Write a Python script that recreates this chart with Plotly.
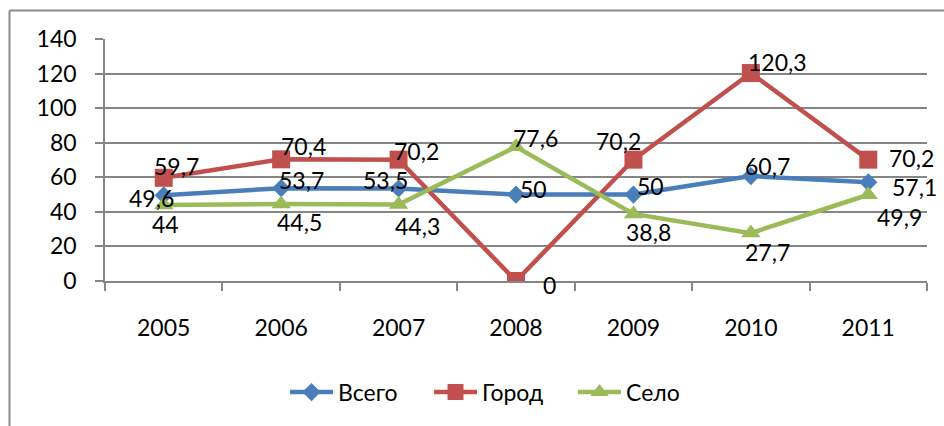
import plotly.graph_objects as go

years = ["2005", "2006", "2007", "2008", "2009", "2010", "2011"]
vsego = [49.6, 53.7, 53.5, 50, 50, 60.7, 57.1]
gorod = [59.7, 70.4, 70.2, 0, 70.2, 120.3, 70.2]
selo = [44, 44.5, 44.3, 77.6, 38.8, 27.7, 49.9]
y_ticks = [0, 20, 40, 60, 80, 100, 120, 140]

FONT = "Lato"
FS = 23

series = [
    ("Всего", vsego, "#4A7EBB", "diamond", 14,
     [(-12, 3), (20, -8), (-13, -9), (17, -6), (17, -9), (17, -10), (46, 5)]),
    ("Город", gorod, "#C0504D", "square", 18,
     [(13, -12), (22, -13), (18, -9), (33, 4), (-15, -19), (27, -11), (43, -2)]),
    ("Село", selo, "#9BBB59", "triangle-up", 17,
     [(2, 19), (18, 18), (19, 22), (19, -9), (15, 18), (17, 19), (31, 22)]),
]

def fmt(v):
    s = f"{v:g}"
    return s.replace(".", ",")

fig = go.Figure()
for name, vals, color, sym, msize, offs in series:
    fig.add_trace(go.Scatter(
        x=years, y=vals, name=name, mode="lines+markers",
        line=dict(color=color, width=4.5),
        marker=dict(symbol=sym, size=msize, color=color),
    ))

for name, vals, color, sym, msize, offs in series:
    for i, (v, (dx, dy)) in enumerate(zip(vals, offs)):
        fig.add_annotation(
            x=i, y=v, xref="x", yref="y", text=fmt(v), showarrow=False,
            xshift=dx, yshift=-dy,
            font=dict(family=FONT, size=FS, color="#000000"),
        )

# chart border (top and left edges visible)
fig.add_shape(type="line", xref="paper", yref="paper", x0=-0.1162, x1=1.05, y0=1.118, y1=1.118,
              line=dict(color="#8C8C8C", width=2))
fig.add_shape(type="line", xref="paper", yref="paper", x0=-0.1162, x1=-0.1162, y0=1.118, y1=-0.62,
              line=dict(color="#8C8C8C", width=2))

fig.update_layout(
    width=944, height=426,
    margin=dict(l=105, r=17, t=39, b=145, autoexpand=False),
    paper_bgcolor="white", plot_bgcolor="white",
    font=dict(family=FONT, size=FS, color="#000000"),
    showlegend=True,
    legend=dict(orientation="h", x=0.219, xanchor="left", y=-0.459, yanchor="middle",
                font=dict(family=FONT, size=FS), itemwidth=43, entrywidth=86),
    xaxis=dict(type="category", showgrid=False, showline=True, linecolor="#868686", linewidth=1.5,
               ticks="outside", ticklen=8, tickcolor="#868686", tickwidth=1.5,
               tickson="boundaries", tickfont=dict(family=FONT, size=FS), ticklabelstandoff=26,
               range=[-0.5, 6.5], automargin=False),
    yaxis=dict(range=[0, 140], tickvals=y_ticks, showgrid=True, gridcolor="#868686", gridwidth=1.5,
               showline=True, linecolor="#868686", linewidth=1.5, zeroline=False,
               ticks="outside", ticklen=8, tickcolor="#868686", tickwidth=1.5,
               tickfont=dict(family=FONT, size=FS), ticklabelstandoff=14, automargin=False),
)

fig.write_html("out.html", post_script="document.body.style.margin='0';",
               config={"displayModeBar": False})
